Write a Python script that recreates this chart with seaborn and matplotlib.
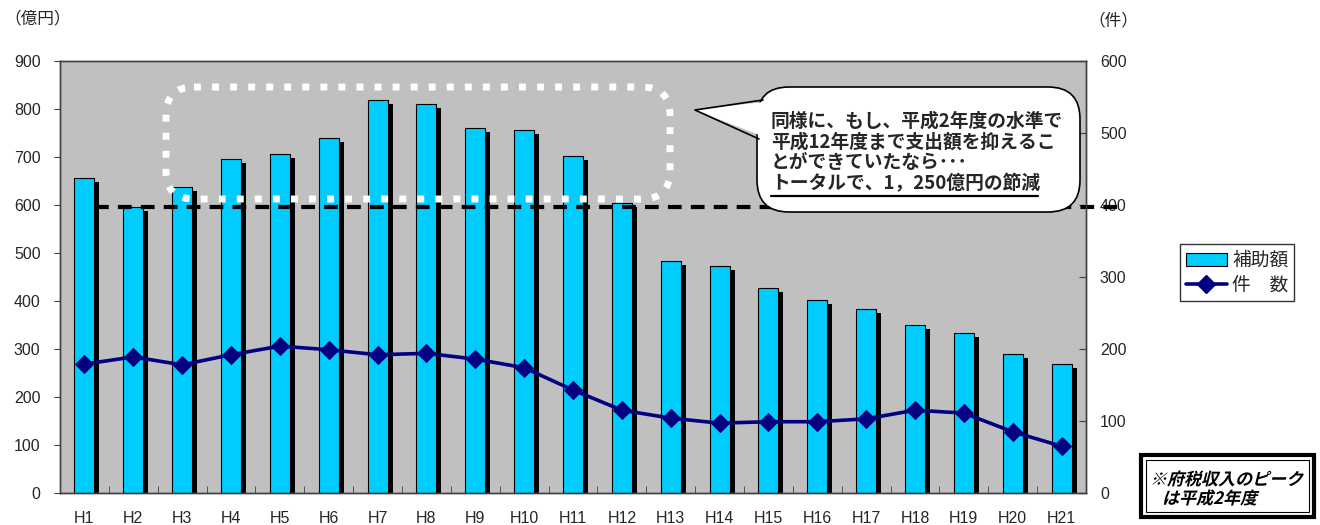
import numpy as np
import matplotlib
matplotlib.use('Agg')
import matplotlib.pyplot as plt
import seaborn as sns
from matplotlib.patches import FancyBboxPatch, Polygon, Rectangle, PathPatch, Patch
from matplotlib.lines import Line2D
from matplotlib.transforms import Affine2D
from matplotlib.textpath import TextPath
from matplotlib.font_manager import FontProperties
import matplotlib.patheffects as pe

years = ['H1', 'H2', 'H3', 'H4', 'H5', 'H6', 'H7', 'H8', 'H9', 'H10', 'H11',
         'H12', 'H13', 'H14', 'H15', 'H16', 'H17', 'H18', 'H19', 'H20', 'H21']
# 補助額（億円）
amount = [656, 596, 637, 696, 706, 740, 819, 810, 760, 756, 702,
          604, 483, 473, 427, 402, 383, 350, 333, 290, 269]
# 件数
counts = [179, 189, 178, 192, 204, 199, 192, 194, 186, 174, 143,
          115, 104, 97, 99, 99, 103, 115, 111, 85, 65]
left_ticks = list(range(0, 1000, 100))
right_ticks = list(range(0, 700, 100))

bubble_lines = ['同様に、もし、平成2年度の水準で',
                '平成12年度まで支出額を抑えるこ',
                'とができていたなら･･･',
                'トータルで、1，250億円の節減']
note_lines = ['※府税収入のピーク', 'は平成2年度']

sns.set_style('white')
plt.rcParams['font.family'] = ['Liberation Sans', 'Noto Sans CJK JP']
plt.rcParams['axes.unicode_minus'] = False

W, H = 1320, 525
fig = plt.figure(figsize=(W / 100, H / 100), dpi=100)
ax = fig.add_axes([60 / W, 1 - 493 / H, (1086 - 60) / W, (493 - 61) / H])
ax.set_facecolor('#C0C0C0')

sns.barplot(x=years, y=amount, color='#00CCFF', saturation=1, width=0.41,
            edgecolor='black', linewidth=0.8, ax=ax)
for bar in ax.patches:
    bar.set_path_effects([pe.SimplePatchShadow(offset=(3.6, -2.9), shadow_rgbFace='black', alpha=1),
                          pe.Normal()])

ax2 = ax.twinx()
sns.lineplot(x=np.arange(len(years)), y=counts, ax=ax2, color='#000080',
             marker='D', markersize=9, markeredgecolor='#000080', linewidth=2.6)

# 平成2年度の水準
ax2.plot([0.22, 21.2], [amount[1] * 600 / 900] * 2, color='black', lw=3,
         linestyle=(0, (3.3, 2.2)), clip_on=False, zorder=1)

ax.set_xlim(-0.5, 20.5)
ax.set_ylim(0, 900)
ax2.set_ylim(0, 600)
ax.set_yticks(left_ticks)
ax2.set_yticks(right_ticks)
ax.set_xlabel('')
ax.set_ylabel('')
ax2.set_ylabel('')
ax.set_xticks(np.arange(-0.5, 21, 1), minor=True)
ax.tick_params(axis='x', which='major', length=0, pad=13, labelsize=11.5)
ax.tick_params(axis='x', which='minor', direction='in', length=5, bottom=True, color='#404040')
ax.tick_params(axis='y', direction='out', length=4, pad=10, labelsize=11.5, left=True, color='#404040')
ax2.tick_params(axis='y', direction='in', length=5, pad=10, labelsize=11.5, right=True, color='#404040')
for a in (ax, ax2):
    for s in a.spines.values():
        s.set_color('#404040')
        s.set_linewidth(1)

px = Affine2D().scale(1 / W, -1 / H).translate(0, 1) + fig.transFigure
fig.text(4, 19, '（億円）', transform=px, fontsize=12, va='center', ha='left',
         family=['Noto Sans CJK JP'])
fig.text(1088, 21, '（件）', transform=px, fontsize=12, va='center', ha='left',
         family=['Noto Sans CJK JP'])

# 白い点線の枠
fig.add_artist(FancyBboxPatch((166, 87), 504, 112, boxstyle='round,pad=0,rounding_size=28',
                              transform=px, fc='none', ec='white', lw=5,
                              linestyle=(0, (1, 1.6)), capstyle='butt'))

# 吹き出し
fig.add_artist(FancyBboxPatch((757, 87), 323, 125, boxstyle='round,pad=0,rounding_size=32',
                              transform=px, fc='white', ec='black', lw=1.2))
fig.add_artist(Polygon([(772, 101), (695, 110), (772, 140)], closed=True, transform=px,
                       fc='white', ec='none'))
fig.add_artist(Line2D([763, 695, 759], [100, 110, 139], transform=px, color='black', lw=1.2))
fig.text(771, 112, '\n'.join(bubble_lines), transform=px, fontsize=13.5, fontweight='bold',
         va='top', ha='left', linespacing=1.1, family=['Noto Sans CJK JP'])
fig.add_artist(Line2D([771, 1038], [196, 196], transform=px, color='black', lw=1.6))

# 凡例
handles = [Patch(fc='#00CCFF', ec='black', lw=0.8, label='補助額'),
           Line2D([], [], color='#000080', lw=2.6, marker='D', markersize=9, label='件　数')]
fig.legend(handles=handles, loc='upper left', bbox_to_anchor=(1180 / W, 1 - 244 / H),
           frameon=True, fancybox=False, edgecolor='black', handlelength=2.2,
           handletextpad=0.3, borderpad=0.3, labelspacing=0.2, borderaxespad=0,
           prop={'family': ['Noto Sans CJK JP'], 'size': 13.5})

# 右下の注記
fig.add_artist(Rectangle((1141, 455), 173, 62, transform=px, fc='white', ec='black', lw=3))
fig.add_artist(Rectangle((1146, 460), 163, 52, transform=px, fc='none', ec='black', lw=0.8))
up = Affine2D().scale(1 / W, 1 / H) + fig.transFigure
fp = FontProperties(family='Noto Sans CJK JP', weight='bold')
for line, (x0, yb) in zip(note_lines, [(1150, 485), (1162, 504)]):
    tp = TextPath((0, 0), line, size=17, prop=fp)
    tp = Affine2D().skew_deg(14, 0).translate(x0, H - yb).transform_path(tp)
    fig.add_artist(PathPatch(tp, transform=up, fc='black', ec='none'))

fig.savefig('out.png', dpi=100)
